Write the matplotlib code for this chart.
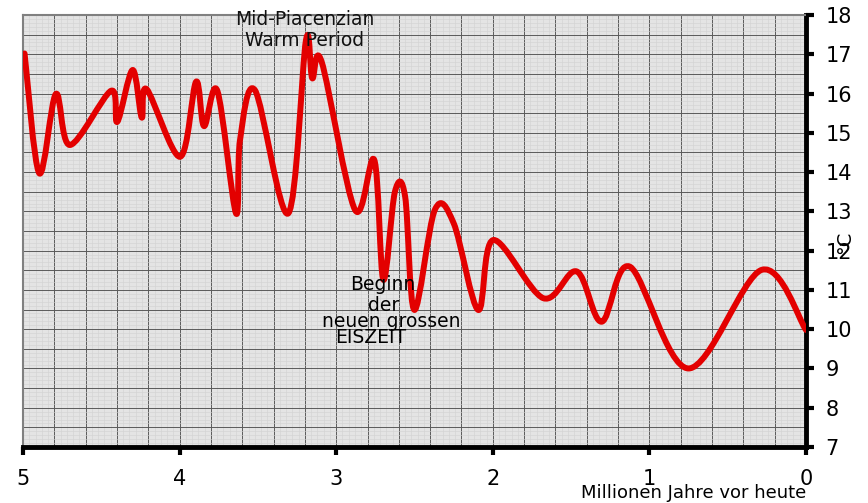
import numpy as np
import matplotlib
matplotlib.use("Agg")
import matplotlib.pyplot as plt
from matplotlib.path import Path
from matplotlib.patches import PathPatch
from matplotlib.ticker import MultipleLocator

# Temperatur (°C) gegen Millionen Jahre vor heute
age = [4.99, 4.896, 4.79, 4.70, 4.438, 4.398, 4.30, 4.242, 4.21, 3.997,
       3.895, 3.844, 3.759, 3.64, 3.614, 3.518, 3.306, 3.193, 3.153, 3.093,
       2.88, 2.757, 2.699, 2.625, 2.56, 2.501, 2.37, 2.25, 2.093, 1.997,
       1.678, 1.464, 1.305, 1.124, 0.751, 0.283, 0.0]
temp = [17.02, 13.97, 15.99, 14.69, 16.07, 15.28, 16.6, 15.39, 16.11, 14.39,
        16.3, 15.17, 16.07, 12.95, 14.82, 16.08, 12.95, 17.36, 16.39, 16.81,
        13.04, 14.31, 11.26, 13.5, 13.38, 10.49, 13.04, 12.7, 10.49, 12.27,
        10.79, 11.47, 10.19, 11.59, 9.0, 11.51, 9.98]

x_ticks = [5, 4, 3, 2, 1, 0]
y_ticks = list(range(7, 19))


def smooth_path(xs, ys, t=1.0):
    """Catmull-Rom style bezier through the points (like Excel's smoothed line)."""
    p = np.column_stack([xs, ys])
    n = len(p)
    verts = [p[0]]
    codes = [Path.MOVETO]
    for i in range(n - 1):
        p0 = p[i - 1] if i > 0 else p[i]
        p3 = p[i + 2] if i + 2 < n else p[i + 1]
        c1 = p[i] + (p[i + 1] - p0) * t / 6
        c2 = p[i + 1] - (p3 - p[i]) * t / 6
        verts += [c1, c2, p[i + 1]]
        codes += [Path.CURVE4] * 3
    return Path(verts, codes)


fig = plt.figure(figsize=(8.68, 5.03), dpi=100)
ax = fig.add_axes([23 / 868, 56 / 503, 783 / 868, 432 / 503])
ax.set_facecolor("#e4e4e4")

ax.set_xlim(5, 0)
ax.set_ylim(7, 18)

ax.xaxis.set_major_locator(MultipleLocator(0.2))
ax.xaxis.set_minor_locator(MultipleLocator(0.04))
ax.yaxis.set_major_locator(MultipleLocator(0.5))
ax.yaxis.set_minor_locator(MultipleLocator(0.1))
ax.grid(which="minor", color="#d2d2d2", lw=0.4)
ax.grid(which="major", color="#5a5a5a", lw=0.7)
ax.set_axisbelow(True)
ax.tick_params(which="both", length=0, labelbottom=False, labelleft=False)

# ticks and labels drawn on a twin set of axes so grid spacing stays independent
ax2 = fig.add_axes(ax.get_position(), frameon=False)
ax2.set_xlim(5, 0)
ax2.set_ylim(7, 18)
ax2.patch.set_visible(False)
ax2.set_xticks(x_ticks)
ax2.set_yticks(y_ticks)
ax2.yaxis.tick_right()
ax2.tick_params(axis="x", direction="out", length=6, width=3, pad=10, labelsize=15)
ax2.tick_params(axis="y", direction="out", length=6, width=3, pad=8, labelsize=15)

for side in ("top", "left"):
    ax.spines[side].set_color("#808080")
    ax.spines[side].set_linewidth(1.5)
for side in ("bottom", "right"):
    ax.spines[side].set_color("black")
    ax.spines[side].set_linewidth(3.5)

patch = PathPatch(smooth_path(age, temp), facecolor="none", edgecolor="#e30000",
                  lw=4.3, capstyle="round", joinstyle="round", zorder=5)
ax.add_patch(patch)

ax.text(3.2, 17.62, "Mid-Piacenzian\nWarm Period", ha="center", va="center",
        fontsize=13.5, linespacing=1.1, color="#111111", zorder=6)

ax.text(2.70, 11.13, "Beginn", ha="center", va="center", fontsize=13.5, zorder=6)
ax.text(2.70, 10.60, "der", ha="center", va="center", fontsize=13.5, zorder=6)
ax.text(2.65, 10.20, "neuen grossen", ha="center", va="center", fontsize=13.5, zorder=6)
ax.text(2.78, 9.80, "EISZEIT", ha="center", va="center", fontsize=13.5, zorder=6)

fig.text(845 / 868, 1 - 242 / 503, "°C", rotation=90, ha="center", va="center",
         fontsize=14)
fig.text(806 / 868, 1 - 493 / 503, "Millionen Jahre vor heute", ha="right",
         va="center", fontsize=13)

fig.savefig("out.png", dpi=100)
